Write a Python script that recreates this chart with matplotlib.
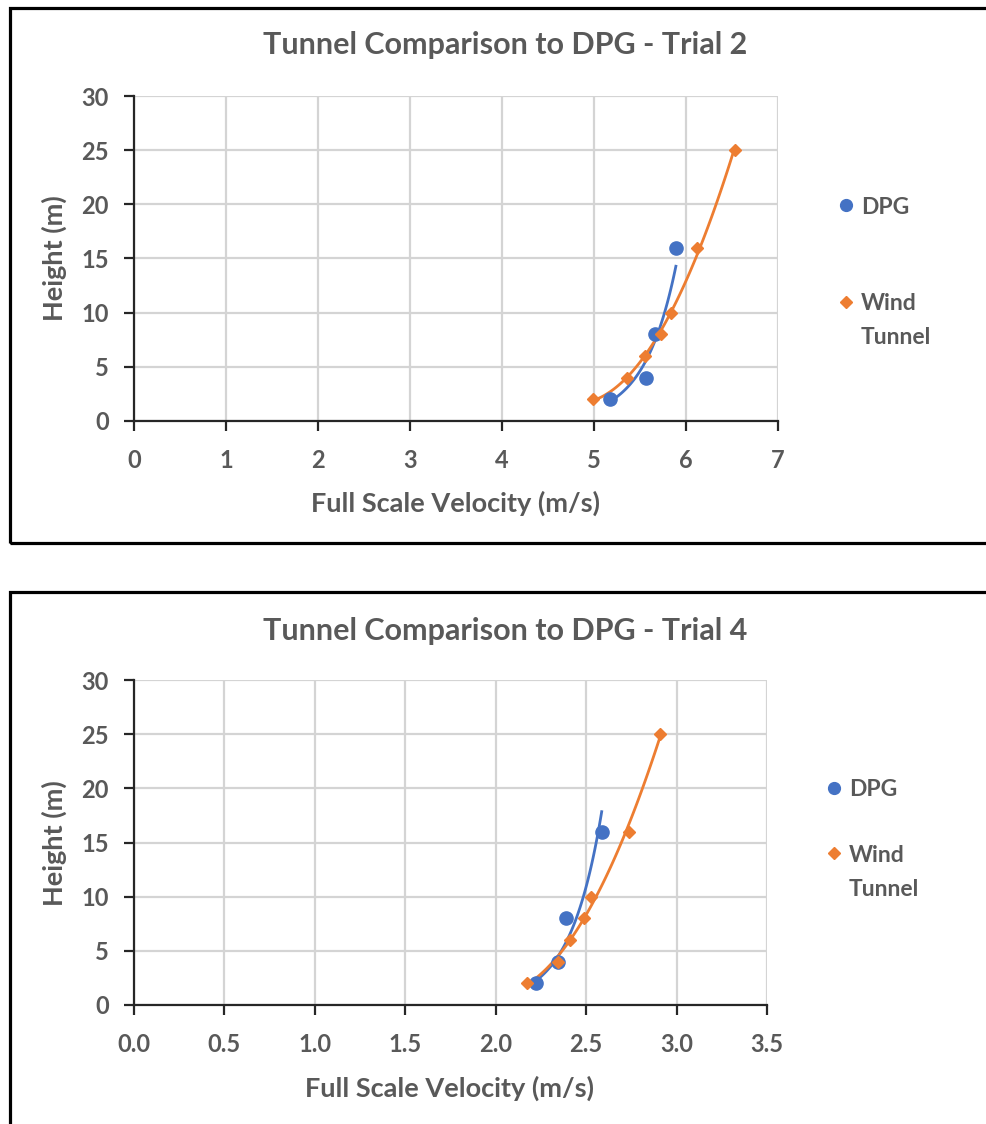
import numpy as np
import matplotlib
matplotlib.use("Agg")
import matplotlib.pyplot as plt
from matplotlib.patches import Rectangle

plt.rcParams["font.family"] = ["Lato", "DejaVu Sans"]

# Trial 2
t2_dpg_v = [5.17, 5.56, 5.66, 5.89]
t2_dpg_h = [2, 4, 8, 16]
t2_wind_v = [4.99, 5.36, 5.55, 5.73, 5.84, 6.12, 6.53]
t2_wind_h = [2, 4, 6, 8, 10, 16, 25]

# Trial 4
t4_dpg_v = [2.22, 2.346, 2.387, 2.586]
t4_dpg_h = [2, 4, 8, 16]
t4_wind_v = [2.175, 2.346, 2.41, 2.488, 2.525, 2.739, 2.908]
t4_wind_h = [2, 4, 6, 8, 10, 16, 25]

BLUE = "#4472C4"
ORANGE = "#ED7D31"
TXT = "#595959"
GRID = "#d4d4d4"

W, H = 987, 1124


def fx(px):
    return px / W


def fy(py):
    return 1 - py / H


def trend_exp(ax, v, h, color):
    # excel style exponential trendline
    b, a = np.polyfit(v, np.log(h), 1)
    xs = np.linspace(min(v), max(v), 100)
    ax.plot(xs, np.exp(a + b * xs), color=color, lw=2.0, zorder=2)


def trend_poly(ax, v, h, color):
    coef = np.polyfit(v, h, 2)
    xs = np.linspace(min(v), max(v), 100)
    ax.plot(xs, np.polyval(coef, xs), color=color, lw=2.0, zorder=2)


def panel(fig, rect, title, title_y, xlab_xy, ylab_xy, dpg, wind, xmax, xstep, xfmt, leg):
    ax = fig.add_axes(rect)
    trend_exp(ax, dpg[0], dpg[1], BLUE)
    trend_poly(ax, wind[0], wind[1], ORANGE)
    ax.plot(dpg[0], dpg[1], "o", color=BLUE, ms=9.5, zorder=3, lw=0)
    ax.plot(wind[0], wind[1], "D", color=ORANGE, ms=6.5, zorder=3, lw=0)
    ax.set_xlim(0, xmax)
    ax.set_ylim(0, 30)
    xt = np.arange(0, xmax + xstep / 2, xstep)
    ax.set_xticks(xt)
    ax.set_xticklabels([xfmt.format(t) for t in xt])
    ax.set_yticks(range(0, 31, 5))
    ax.grid(True, color=GRID, lw=1.6)
    ax.set_axisbelow(True)
    for s in ["top", "right"]:
        ax.spines[s].set_visible(False)
    for s in ["left", "bottom"]:
        ax.spines[s].set_color("#262626")
        ax.spines[s].set_linewidth(1.6)
    ax.tick_params(direction="out", length=7, width=1.6, colors="#262626",
                   labelcolor=TXT, labelsize=17)
    ax.tick_params(axis="x", pad=13)
    ax.tick_params(axis="y", pad=11)
    for lab in ax.get_xticklabels() + ax.get_yticklabels():
        lab.set_fontweight("bold")

    fig.text(0.512, fy(title_y), title, ha="center", va="center",
             fontsize=22, fontweight="bold", color=TXT)
    fig.text(fx(xlab_xy[0]), fy(xlab_xy[1]), "Full Scale Velocity (m/s)",
             ha="center", va="center", fontsize=19.5, fontweight="bold", color=TXT)
    fig.text(fx(ylab_xy[0]), fy(ylab_xy[1]), "Height (m)", rotation=90,
             ha="center", va="center", fontsize=19.5, fontweight="bold", color=TXT)

    # legend
    mx, y1, y2 = leg
    fig.lines.append(plt.Line2D([fx(mx)], [fy(y1)], marker="o", color=BLUE, ms=8.5,
                                transform=fig.transFigure))
    fig.lines.append(plt.Line2D([fx(mx)], [fy(y2)], marker="D", color=ORANGE, ms=6,
                                transform=fig.transFigure))
    fig.text(fx(mx + 15), fy(y1), "DPG", ha="left", va="center_baseline",
             fontsize=16.5, fontweight="bold", color=TXT)
    fig.text(fx(mx + 15), fy(y2), "Wind", ha="left", va="center_baseline",
             fontsize=16.5, fontweight="bold", color=TXT)
    fig.text(fx(mx + 15), fy(y2 + 34), "Tunnel", ha="left", va="center_baseline",
             fontsize=16.5, fontweight="bold", color=TXT)
    return ax


fig = plt.figure(figsize=(W / 100, H / 100), dpi=100)

fig.patches.append(Rectangle((fx(10), fy(543)), fx(1000) - fx(10), fy(8) - fy(543),
                             fill=False, ec="black", lw=2.3, transform=fig.transFigure))
fig.patches.append(Rectangle((fx(10), fy(1150)), fx(1000) - fx(10), fy(592) - fy(1150),
                             fill=False, ec="black", lw=2.3, transform=fig.transFigure))

panel(fig, [fx(134), fy(421), (778 - 134) / W, 325 / H],
      "Tunnel Comparison to DPG - Trial 2", 45, (456, 503), (54, 258),
      (t2_dpg_v, t2_dpg_h), (t2_wind_v, t2_wind_h), 7, 1, "{:.0f}",
      (846, 205, 302))

panel(fig, [fx(134), fy(1005), (767 - 134) / W, 325 / H],
      "Tunnel Comparison to DPG - Trial 4", 631, (450, 1088), (54, 843),
      (t4_dpg_v, t4_dpg_h), (t4_wind_v, t4_wind_h), 3.5, 0.5, "{:.1f}",
      (834, 788, 853))

fig.savefig("out.png", dpi=100)
